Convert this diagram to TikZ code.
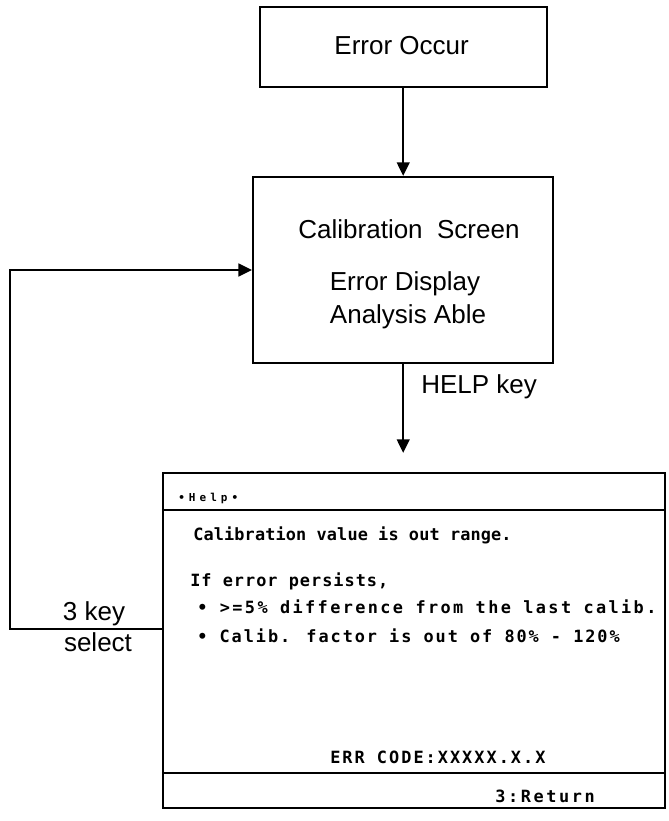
\documentclass[tikz,border=0pt]{standalone}
\usepackage{fontspec}
\setmainfont{Liberation Sans}
\newfontfamily\screenfont{DejaVu Sans Mono}
\usetikzlibrary{arrows.meta}

\begin{document}
\begin{tikzpicture}[
    box/.style={draw, line width=1.6pt, inner sep=0pt},
    txt/.style={font=\fontsize{18.5pt}{22pt}\selectfont, anchor=base, inner sep=0pt},
    scr/.style={font=\screenfont\bfseries\fontsize{12pt}{14pt}\selectfont, anchor=base west, inner sep=0pt},
    flow/.style={->, line width=1.4pt},
    >={Triangle[length=0.34cm, width=0.32cm]},
]
% Page: 668 x 821 px, 1 px = 0.025 cm
\useasboundingbox (0,0) rectangle (16.7,-20.525);

\def\xM{10.08}  % main column
\def\yHead{-12.75}
\def\yFoot{-19.325}
\def\yRet{-15.725}

% Boxes
\node[box, minimum width=7.175cm, minimum height=2cm] (err) at (\xM,-1.175) {};
\node[box, minimum width=7.5cm, minimum height=4.65cm] (calib) at (\xM,-6.75) {};
\node[box, minimum width=12.55cm, minimum height=8.375cm] (help) at (10.35,-16.0125) {};

% Box texts
\node[txt] (errtxt) at (10.04,-1.375) {Error Occur};
\node[txt] (caltitle) at (10.225,-5.95) {Calibration\ \ Screen};
\node[txt] (caldisp) at (10.125,-7.25) {Error Display};
\node[txt] (calana) at (10.2,-8.075) {Analysis Able};

% Help screen: header and footer rules
\draw[line width=1.4pt] (help.west |- 0,\yHead) -- (help.east |- 0,\yHead);
\draw[line width=1.4pt] (help.west |- 0,\yFoot) -- (help.east |- 0,\yFoot);

% Help screen texts
\node[scr, font=\screenfont\bfseries\fontsize{7.8pt}{9pt}\selectfont] (hlptitle) at (4.45,-12.525) {\addfontfeature{LetterSpace=37}•Help•};
\node[scr] (scrA) at (4.825,-13.5) {\addfontfeature{LetterSpace=0.8}Calibration value is out range.};
\node[scr] (scrB) at (4.75,-14.65) {\addfontfeature{LetterSpace=6}If error persists,};
\node[scr] (scrC) at (4.925,-15.325) {\addfontfeature{LetterSpace=14}• >=5\% difference from the last calib.};
\node[scr] (scrD) at (4.925,-16.05) {\addfontfeature{LetterSpace=11.6}• Calib. factor is out of 80\% - 120\%};
\node[scr] (errcode) at (8.25,-19.075) {\addfontfeature{LetterSpace=12}ERR CODE:XXXXX.X.X};
\node[scr] (retkey) at (12.375,-20.05) {\addfontfeature{LetterSpace=15.5}3:Return};

% Connectors
\draw[flow] (err) -- (calib);
\draw[flow, shorten >=0.475cm] (calib.south) -- (calib.south |- help.north);
\node[txt, anchor=base west] (helpkey) at (10.525,-9.825) {HELP key};

\coordinate (ret) at (help.west |- 0,\yRet);
\draw[flow] (ret) -- (0.25,\yRet) |- (calib.west);
\node[txt] (keylbl) at (2.35,-15.5) {3 key};
\node[txt] (sellbl) at (2.45,-16.275) {select};

\end{tikzpicture}
\end{document}
